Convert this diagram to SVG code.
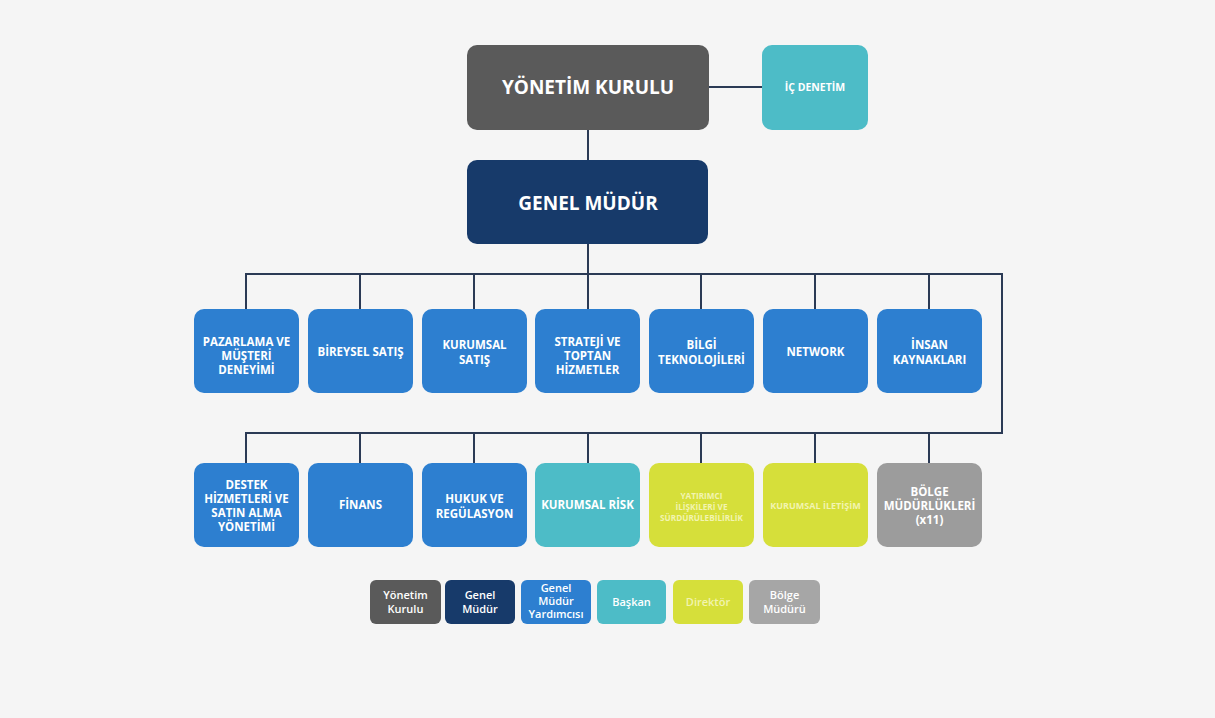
<svg xmlns="http://www.w3.org/2000/svg" width="1215" height="718" viewBox="0 0 1215 718">
<style>
text{font-family:"Open Sans","Liberation Sans",sans-serif;font-weight:700;text-anchor:middle;fill:#ffffff}
.t{font-size:11.5px}
.big{font-size:19px}
.lg{font-size:11px;font-weight:600}
.yk{fill:#5a5a5a}.gm{fill:#173a6a}.gmy{fill:#2d7fd0}.bk{fill:#4dbcc7}.dr{fill:#d6df3a}.bl{fill:#9c9c9c}
.yt{fill:#f2f4b0}
.c{stroke:#2b3a55;stroke-width:2;fill:none}
</style>
<rect width="1215" height="718" fill="#f5f5f5"/>
<g id="connectors">
<path class="c" d="M709 87H762"/>
<path class="c" d="M588 130V160"/>
<path class="c" d="M588 244V309"/>
<path class="c" d="M246 309V274H1002V433H246V463"/>
<path class="c" d="M360 274V309M474 274V309M701 274V309M815 274V309M929 274V309"/>
<path class="c" d="M360 433V463M474 433V463M588 433V463M701 433V463M815 433V463M929 433V463"/>
</g>
<g id="yonetim-kurulu"><rect class="yk" x="467" y="45" width="242" height="85" rx="10"/><text class="big" x="588" y="94">YÖNETİM KURULU</text></g>
<g id="ic-denetim"><rect class="bk" x="762" y="45" width="106" height="85" rx="10"/><text class="t" x="815" y="91" style="font-size:10.5px">İÇ DENETİM</text></g>
<g id="genel-mudur"><rect class="gm" x="467" y="160" width="241" height="84" rx="10"/><text class="big" x="588" y="210">GENEL MÜDÜR</text></g>
<g id="pazarlama"><rect class="gmy" x="194" y="309" width="105" height="84" rx="10"/><text class="t" x="246.5" y="346">PAZARLAMA VE</text><text class="t" x="246.5" y="360">MÜŞTERİ</text><text class="t" x="246.5" y="374">DENEYİMİ</text></g>
<g id="bireysel-satis"><rect class="gmy" x="308" y="309" width="105" height="84" rx="10"/><text class="t" x="360.5" y="356">BİREYSEL SATIŞ</text></g>
<g id="kurumsal-satis"><rect class="gmy" x="422" y="309" width="105" height="84" rx="10"/><text class="t" x="474.5" y="349">KURUMSAL</text><text class="t" x="474.5" y="364">SATIŞ</text></g>
<g id="strateji"><rect class="gmy" x="535" y="309" width="105" height="84" rx="10"/><text class="t" x="587.5" y="346">STRATEJİ VE</text><text class="t" x="587.5" y="360">TOPTAN</text><text class="t" x="587.5" y="374">HİZMETLER</text></g>
<g id="bilgi-teknolojileri"><rect class="gmy" x="649" y="309" width="105" height="84" rx="10"/><text class="t" x="701.5" y="349">BİLGİ</text><text class="t" x="701.5" y="364">TEKNOLOJİLERİ</text></g>
<g id="network"><rect class="gmy" x="763" y="309" width="105" height="84" rx="10"/><text class="t" x="815.5" y="356">NETWORK</text></g>
<g id="insan-kaynaklari"><rect class="gmy" x="877" y="309" width="105" height="84" rx="10"/><text class="t" x="929.5" y="349">İNSAN</text><text class="t" x="929.5" y="364">KAYNAKLARI</text></g>
<g id="destek"><rect class="gmy" x="194" y="463" width="105" height="84" rx="10"/><text class="t" x="246.5" y="489">DESTEK</text><text class="t" x="246.5" y="503">HİZMETLERİ VE</text><text class="t" x="246.5" y="517">SATIN ALMA</text><text class="t" x="246.5" y="531">YÖNETİMİ</text></g>
<g id="finans"><rect class="gmy" x="308" y="463" width="105" height="84" rx="10"/><text class="t" x="360.5" y="509">FİNANS</text></g>
<g id="hukuk"><rect class="gmy" x="422" y="463" width="105" height="84" rx="10"/><text class="t" x="474.5" y="503">HUKUK VE</text><text class="t" x="474.5" y="518">REGÜLASYON</text></g>
<g id="kurumsal-risk"><rect class="bk" x="535" y="463" width="105" height="84" rx="10"/><text class="t" x="587.5" y="509">KURUMSAL RİSK</text></g>
<g id="yatirimci"><rect class="dr" x="649" y="463" width="105" height="84" rx="10"/><text class="t yt" x="701.5" y="499" style="font-size:8.2px">YATIRIMCI</text><text class="t yt" x="701.5" y="510" style="font-size:8.2px">İLİŞKİLERİ VE</text><text class="t yt" x="701.5" y="521" style="font-size:8.2px">SÜRDÜRÜLEBİLİRLİK</text></g>
<g id="kurumsal-iletisim"><rect class="dr" x="763" y="463" width="105" height="84" rx="10"/><text class="t yt" x="815.5" y="509" style="font-size:9px">KURUMSAL İLETİŞİM</text></g>
<g id="bolge"><rect class="bl" x="877" y="463" width="105" height="84" rx="10"/><text class="t" x="929.5" y="496">BÖLGE</text><text class="t" x="929.5" y="510">MÜDÜRLÜKLERİ</text><text class="t" x="929.5" y="524">(x11)</text></g>
<g id="legend">
<g id="lg-yk"><rect class="yk" x="370" y="580" width="71" height="44" rx="6"/><text class="lg" x="405.5" y="599">Yönetim</text><text class="lg" x="405.5" y="613">Kurulu</text></g>
<g id="lg-gm"><rect class="gm" x="445" y="580" width="70" height="44" rx="6"/><text class="lg" x="480" y="599">Genel</text><text class="lg" x="480" y="613">Müdür</text></g>
<g id="lg-gmy"><rect class="gmy" x="521" y="580" width="70" height="44" rx="6"/><text class="lg" x="556" y="592">Genel</text><text class="lg" x="556" y="605">Müdür</text><text class="lg" x="556" y="618">Yardımcısı</text></g>
<g id="lg-bk"><rect class="bk" x="597" y="580" width="69" height="44" rx="6"/><text class="lg" x="631.5" y="606">Başkan</text></g>
<g id="lg-dr"><rect class="dr" x="673" y="580" width="70" height="44" rx="6"/><text class="lg yt" x="708" y="606">Direktör</text></g>
<g id="lg-bl"><rect fill="#a6a6a6" x="749" y="580" width="71" height="44" rx="6"/><text class="lg" x="784.5" y="599">Bölge</text><text class="lg" x="784.5" y="613">Müdürü</text></g>
</g>
</svg>
